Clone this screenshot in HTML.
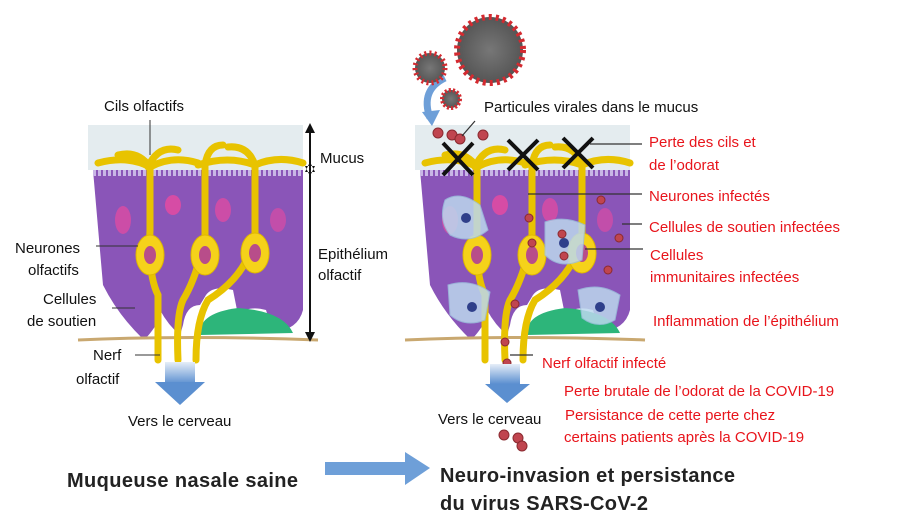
<!DOCTYPE html>
<html><head><meta charset="utf-8"><style>
body{margin:0;background:#fff}
svg{display:block}
text{font-family:"Liberation Sans",sans-serif;font-size:15px;fill:#111}
.r{fill:#e8141b}
.b{font-weight:bold;font-size:20px;fill:#222}
</style></head><body>
<svg width="900" height="531" viewBox="0 0 900 531">
<defs>
<linearGradient id="ar" x1="0" y1="0" x2="0" y2="1"><stop offset="0" stop-color="#e6eef8"/><stop offset="1" stop-color="#5b8fd0"/></linearGradient>
<radialGradient id="vir"><stop offset="0" stop-color="#777"/><stop offset="1" stop-color="#555"/></radialGradient>
<g id="tissue">
<rect x="0" y="0" width="215" height="45" fill="#e4ecef"/>
<path d="M5 45 H215 V185 Q210 205 185 207 L178 185 Q160 180 150 190 L145 165 Q125 160 118 170 L112 180 Q98 180 95 200 L92 210 Q80 200 72 185 L68 200 Q58 215 55 214 Q30 190 15 160 Z" fill="#8a55b8"/>
<path d="M5 48 H215" stroke="#c9b6e6" stroke-width="6" stroke-dasharray="3 2"/>
<ellipse cx="35" cy="95" rx="8" ry="14" fill="#e84aa0" opacity=".7"/>
<ellipse cx="85" cy="80" rx="8" ry="10" fill="#e84aa0" opacity=".8"/>
<ellipse cx="135" cy="85" rx="8" ry="12" fill="#e84aa0" opacity=".7"/>
<ellipse cx="190" cy="95" rx="8" ry="12" fill="#e84aa0" opacity=".6"/>
<path d="M112 210 Q110 188 150 183 Q195 186 205 208 Z" fill="#2db57a"/>
<path d="M-10 215 Q100 210 230 215" stroke="#c9a870" stroke-width="3" fill="none"/>
<g stroke="#e8c300" stroke-width="7" fill="none" stroke-linecap="round">
<path d="M62 40 V105 Q60 150 70 170 V235"/>
<path d="M117 40 V110 Q110 150 95 175 Q88 190 90 235"/>
<path d="M167 40 V110 Q160 150 120 175 Q108 195 108 235"/>
<path d="M10 38 Q40 30 62 42 Q85 30 110 38 M60 42 Q70 20 90 25 M110 40 Q140 30 167 40 Q190 30 215 38 M167 40 Q160 20 140 22 M117 40 Q120 20 135 20 M62 42 Q50 25 30 30"/>
</g>
<g fill="#f5d21a" stroke="#e0b800" stroke-width="1">
<ellipse cx="62" cy="130" rx="14" ry="20"/><ellipse cx="117" cy="130" rx="14" ry="20"/><ellipse cx="167" cy="128" rx="14" ry="20"/>
</g>
<g fill="#b84d8a"><ellipse cx="62" cy="130" rx="6" ry="9"/><ellipse cx="117" cy="130" rx="6" ry="9"/><ellipse cx="167" cy="128" rx="6" ry="9"/></g>
</g>
</defs>

<!-- left -->
<use href="#tissue" x="88" y="125"/>
<path d="M310 127 V338" stroke="#111" stroke-width="2"/>
<path d="M305 133 L310 123 L315 133 Z M305 332 L310 342 L315 332 Z M305 166 L310 176 L315 166 Z M305 172 L310 162 L315 172Z" fill="#111"/>
<rect x="165" y="362" width="30" height="22" fill="url(#ar)"/>
<path d="M155 382 H205 L180 405 Z" fill="#5b8fd0"/>
<line x1="150" y1="120" x2="150" y2="155" stroke="#333"/>
<line x1="96" y1="246" x2="138" y2="246" stroke="#333"/>
<line x1="112" y1="308" x2="135" y2="308" stroke="#333"/>
<line x1="135" y1="355" x2="160" y2="355" stroke="#333"/>
<text x="104" y="111">Cils olfactifs</text>
<text x="320" y="163">Mucus</text>
<text x="318" y="259">Epithélium</text>
<text x="318" y="280">olfactif</text>
<text x="15" y="253">Neurones</text>
<text x="28" y="275">olfactifs</text>
<text x="43" y="304">Cellules</text>
<text x="27" y="326">de soutien</text>
<text x="93" y="360">Nerf</text>
<text x="76" y="384">olfactif</text>
<text x="128" y="426">Vers le cerveau</text>

<!-- right -->
<use href="#tissue" x="415" y="125"/>
<g fill="#bcd8ee" stroke="#9cc0dd" opacity=".85">
<path d="M445 200 Q460 190 480 205 L488 230 Q470 245 450 235 Q438 220 445 200Z"/>
<path d="M545 222 Q565 215 585 225 L582 260 Q560 270 545 255Z"/>
<path d="M448 285 Q470 278 490 292 L485 320 Q465 328 450 315Z"/>
<path d="M578 290 Q600 282 620 295 L615 320 Q598 330 582 318Z"/>
</g>
<g fill="#2f3f8a"><circle cx="466" cy="218" r="5"/><circle cx="564" cy="243" r="5"/><circle cx="472" cy="307" r="5"/><circle cx="600" cy="307" r="5"/></g>
<g fill="#c0454f" stroke="#8a2a30">
<circle cx="529" cy="218" r="4"/><circle cx="532" cy="243" r="4"/><circle cx="562" cy="234" r="4"/><circle cx="564" cy="256" r="4"/><circle cx="601" cy="200" r="4"/><circle cx="619" cy="238" r="4"/><circle cx="608" cy="270" r="4"/><circle cx="515" cy="304" r="4"/><circle cx="505" cy="342" r="4"/><circle cx="507" cy="363" r="4"/><circle cx="506" cy="386" r="4"/>
<circle cx="438" cy="133" r="5"/><circle cx="452" cy="135" r="5"/><circle cx="460" cy="139" r="5"/><circle cx="483" cy="135" r="5"/>
<circle cx="504" cy="435" r="5"/><circle cx="518" cy="438" r="5"/><circle cx="522" cy="446" r="5"/>
</g>
<g stroke="#111" stroke-width="4">
<path d="M443 143 L473 175 M473 143 L443 175"/>
<path d="M508 140 L538 170 M538 140 L508 170"/>
<path d="M563 138 L593 168 M593 138 L563 168"/>
</g>
<rect x="490" y="364" width="30" height="20" fill="url(#ar)"/>
<path d="M485 384 H530 L507 403 Z" fill="#5b8fd0"/>
<!-- viruses -->
<path d="M445 78 Q420 90 430 118" stroke="#6e9fd8" stroke-width="7" fill="none"/>
<path d="M422 112 L432 126 L440 110Z" fill="#6e9fd8"/>
<circle cx="490" cy="50" r="33" fill="url(#vir)" stroke="#d42a30" stroke-width="6" stroke-dasharray="3 4"/>
<circle cx="430" cy="68" r="15" fill="url(#vir)" stroke="#d42a30" stroke-width="5" stroke-dasharray="2 3"/>
<circle cx="451" cy="99" r="9" fill="url(#vir)" stroke="#d42a30" stroke-width="4" stroke-dasharray="2 2"/>
<g stroke="#333" stroke-width="1.2">
<line x1="462" y1="136" x2="475" y2="121"/>
<line x1="590" y1="144" x2="642" y2="144"/>
<line x1="528" y1="194" x2="642" y2="194"/>
<line x1="622" y1="224" x2="642" y2="224"/>
<line x1="585" y1="249" x2="643" y2="249"/>
<line x1="510" y1="355" x2="533" y2="355"/>
</g>
<text x="484" y="112">Particules virales dans le mucus</text>
<text x="649" y="147" class="r">Perte des cils et</text>
<text x="649" y="170" class="r">de l’odorat</text>
<text x="649" y="201" class="r">Neurones infectés</text>
<text x="649" y="232" class="r">Cellules de soutien infectées</text>
<text x="650" y="260" class="r">Cellules</text>
<text x="650" y="282" class="r">immunitaires infectées</text>
<text x="653" y="326" class="r">Inflammation de l’épithélium</text>
<text x="542" y="368" class="r">Nerf olfactif infecté</text>
<text x="564" y="396" class="r">Perte brutale de l’odorat de la COVID-19</text>
<text x="565" y="420" class="r">Persistance de cette perte chez</text>
<text x="564" y="442" class="r">certains patients après la COVID-19</text>
<text x="438" y="424">Vers le cerveau</text>

<!-- bottom -->
<text x="67" y="487" class="b" textLength="231">Muqueuse nasale saine</text>
<rect x="325" y="462" width="85" height="13" fill="#6e9fd8"/>
<path d="M405 452 L430 468 L405 485 Z" fill="#6e9fd8"/>
<text x="440" y="482" class="b" textLength="295">Neuro-invasion et persistance</text>
<text x="440" y="510" class="b" textLength="208">du virus SARS-CoV-2</text>
</svg>
</body></html>
